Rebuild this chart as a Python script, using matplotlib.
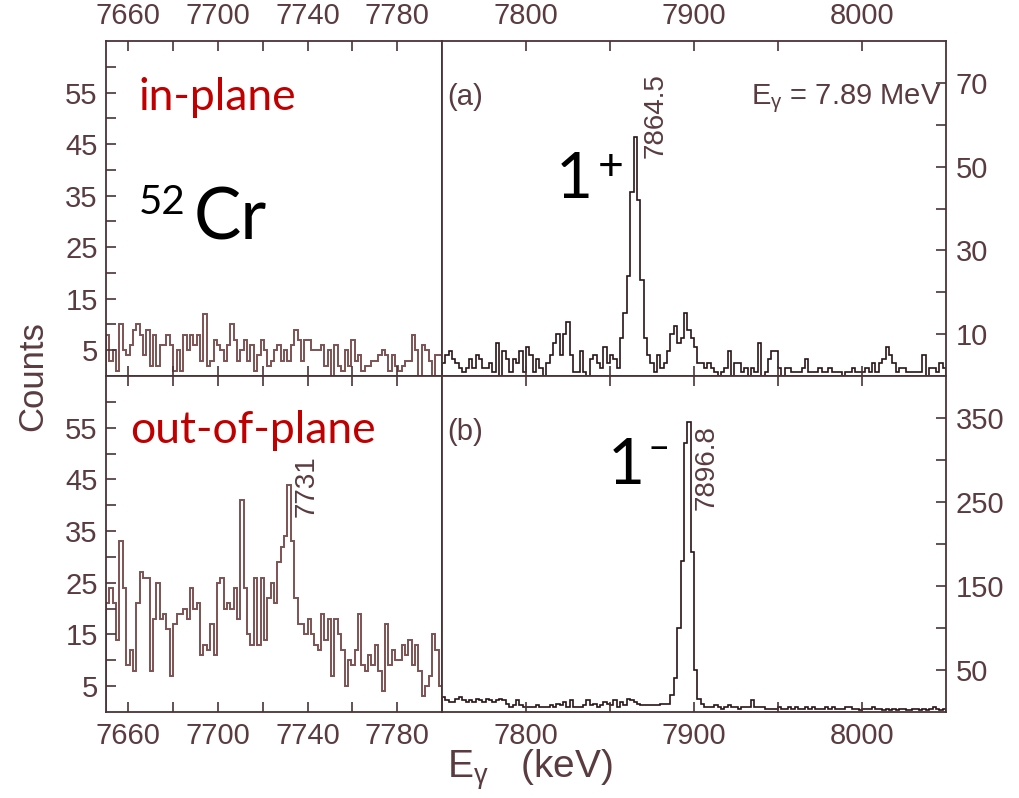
import numpy as np
import matplotlib
matplotlib.use("Agg")
import matplotlib.pyplot as plt
from matplotlib.ticker import FixedLocator

# ---------------- data ----------------
left_start, left_bin = 7650.0, 1.5      # keV
right_start, right_bin = 7750.0, 2.0    # keV

inplane_left = [8, 3, 5, 1, 10, 5, 4, 6, 9, 10, 8, 4, 9, 2, 8, 2, 6, 6, 8, 6,
                1, 5, 1, 8, 5, 8, 6, 8, 3, 12, 2, 3, 7, 6, 5, 3, 6, 10, 7, 3,
                5, 7, 3, 6, 1, 4, 7, 5, 2, 3, 5, 6, 3, 5, 3, 6, 9, 7, 3, 7,
                7, 5, 5, 5, 6, 2, 5, 0, 6, 2, 1, 5, 2, 7, 3, 4, 1, 2, 2, 3,
                3, 4, 5, 4, 1, 4, 2, 1, 2, 3, 3, 8, 5, 0, 6, 5, 3, 0, 4, 4]

inplane_right = [3, 5, 6, 4, 3, 2, 1, 2, 4, 2,
                 5, 4, 2, 2, 3, 1, 8, 0, 6, 4,
                 1, 4, 3, 6, 1, 7, 5, 1, 4, 2,
                 0, 3, 5, 8, 10, 5, 10, 13, 5, 1,
                 1, 6, 1, 0, 4, 5, 3, 2, 7, 3,
                 5, 4, 2, 9, 15, 24, 44, 57, 42, 23,
                 9, 5, 3, 1, 5, 2, 3, 6, 10, 12,
                 8, 9, 15, 11, 9, 7, 3, 3, 2, 3,
                 2, 1, 0, 1, 2, 6, 0, 3, 3, 1,
                 2, 0, 2, 1, 8, 0, 1, 4, 6, 6,
                 2, 0, 2, 2, 1, 1, 1, 2, 4, 1,
                 1, 1, 2, 1, 1, 2, 1, 1, 1, 0,
                 1, 1, 2, 1, 1, 1, 2, 1, 3, 1,
                 3, 4, 7, 5, 3, 1, 2, 2, 1, 1,
                 1, 1, 1, 5, 0, 2, 2, 1, 3, 2]

outplane_left = [21, 24, 21, 14, 33, 24, 9, 12, 8, 21,
                 27, 26, 26, 8, 18, 25, 18, 19, 16, 7,
                 17, 19, 19, 20, 18, 24, 20, 21, 11, 13,
                 12, 17, 11, 25, 26, 20, 21, 20, 24, 18,
                 41, 24, 15, 13, 26, 13, 26, 14, 22, 25,
                 21, 29, 32, 34, 44, 33, 22, 17, 17, 15,
                 18, 15, 13, 12, 19, 14, 18, 7, 18, 15,
                 12, 5, 10, 9, 12, 19, 9, 8, 11, 9,
                 13, 8, 4, 17, 9, 12, 10, 10, 13, 11,
                 14, 9, 13, 8, 3, 5, 7, 15, 12, 5]

outplane_right = [18, 14, 12, 12, 16, 18, 14, 12, 14, 12,
                  16, 14, 12, 16, 14, 12, 14, 16, 14, 10,
                  6, 8, 14, 8, 6, 6, 6, 6, 8, 6,
                  6, 6, 8, 6, 10, 8, 12, 6, 14, 6,
                  6, 6, 8, 14, 8, 10, 6, 8, 12, 10,
                  8, 14, 6, 12, 8, 16, 14, 12, 10, 8,
                  8, 8, 8, 8, 8, 10, 10, 10, 20, 40,
                  100, 180, 320, 345, 190, 50, 16, 10, 6, 6,
                  6, 8, 6, 4, 6, 8, 6, 6, 4, 6,
                  6, 6, 14, 6, 6, 6, 4, 4, 4, 4,
                  6, 4, 4, 6, 4, 6, 4, 4, 6, 4,
                  6, 4, 4, 4, 6, 4, 6, 4, 4, 4,
                  6, 6, 4, 4, 2, 4, 4, 4, 6, 4,
                  4, 2, 4, 2, 4, 2, 4, 4, 2, 2,
                  4, 4, 2, 4, 2, 4, 6, 4, 2, 4]

left_xlim = (7650, 7800)
right_xlim = (7750, 8050)
left_ylim = (0, 65)
top_right_ylim = (0, 80)
bot_right_ylim = (0, 400)

left_major_x = [7660, 7700, 7740, 7780]
left_minor_x = [7680, 7720, 7760]
right_major_x = [7800, 7900, 8000]
right_minor_x = [7850, 7950]
left_major_y = [5, 15, 25, 35, 45, 55]
left_minor_y = [10, 20, 30, 40, 50, 60]
tr_major_y = [10, 30, 50, 70]
tr_minor_y = [20, 40, 60]
br_major_y = [50, 150, 250, 350]
br_minor_y = [100, 200, 300]

peak_a, peak_b, peak_left = "7864.5", "7896.8", "7731"

# ---------------- style ----------------
AX = "#4b3336"
TXT = "#5a3c40"
LEFT_C = "#7d5252"
RIGHT_C = "#2a1416"
RED = "#c00000"
FONT = "Liberation Sans"
BIG = "Lato"

plt.rcParams["font.family"] = [FONT, "DejaVu Sans"]
plt.rcParams["mathtext.fontset"] = "custom"
plt.rcParams["mathtext.rm"] = FONT
plt.rcParams["mathtext.it"] = FONT

W, H = 1020, 798
fig = plt.figure(figsize=(W / 100, H / 100), dpi=100)


def rect(x0, y0, x1, y1):
    return [x0 / W, 1 - y1 / H, (x1 - x0) / W, (y1 - y0) / H]


ax_tl = fig.add_axes(rect(106, 41, 442, 376))
ax_tr = fig.add_axes(rect(442, 41, 946, 376))
ax_bl = fig.add_axes(rect(106, 376, 442, 712))
ax_br = fig.add_axes(rect(442, 376, 946, 712))


def edges(start, width, vals):
    return start + width * np.arange(len(vals) + 1)


ax_tl.stairs(inplane_left, edges(left_start, left_bin, inplane_left), color=LEFT_C, lw=1.4)
ax_bl.stairs(outplane_left, edges(left_start, left_bin, outplane_left), color=LEFT_C, lw=1.4)
ax_tr.stairs(inplane_right, edges(right_start, right_bin, inplane_right), color=RIGHT_C, lw=1.2)
ax_br.stairs(outplane_right, edges(right_start, right_bin, outplane_right), color=RIGHT_C, lw=1.2)

for ax in (ax_tl, ax_tr, ax_bl, ax_br):
    for s in ax.spines.values():
        s.set_color(AX)
        s.set_linewidth(1.3)
    ax.tick_params(which="both", direction="in", length=7, width=1.2,
                   color=AX, labelcolor=TXT, labelsize=21)

for ax in (ax_tl, ax_bl):
    ax.set_xlim(*left_xlim)
    ax.set_ylim(*left_ylim)
    ax.xaxis.set_major_locator(FixedLocator(left_major_x))
    ax.xaxis.set_minor_locator(FixedLocator(left_minor_x))
    ax.yaxis.set_major_locator(FixedLocator(left_major_y))
    ax.yaxis.set_minor_locator(FixedLocator(left_minor_y))
    ax.tick_params(axis="y", which="both", left=True, right=False, labelleft=True, pad=6)

for ax, yl, ymj, ymn in ((ax_tr, top_right_ylim, tr_major_y, tr_minor_y),
                         (ax_br, bot_right_ylim, br_major_y, br_minor_y)):
    ax.set_xlim(*right_xlim)
    ax.set_ylim(*yl)
    ax.xaxis.set_major_locator(FixedLocator(right_major_x))
    ax.xaxis.set_minor_locator(FixedLocator(right_minor_x))
    ax.yaxis.set_major_locator(FixedLocator(ymj))
    ax.yaxis.set_minor_locator(FixedLocator(ymn))
    ax.tick_params(axis="y", which="both", left=False, right=True,
                   labelleft=False, labelright=True, pad=7)

for ax in (ax_tl, ax_tr):
    ax.tick_params(axis="x", which="both", top=True, bottom=True,
                   labeltop=True, labelbottom=False, pad=8)
for ax in (ax_bl, ax_br):
    ax.tick_params(axis="x", which="both", top=True, bottom=True,
                   labeltop=False, labelbottom=True, pad=7)

# axis labels
fig.text(33 / W, 1 - 376 / H, "Counts", rotation=90, ha="center", va="center",
         fontsize=25, color=TXT)
fig.text(530 / W, 1 - 770 / H, r"E$_{\mathregular{γ}}$   (keV)", ha="center", va="center",
         fontsize=28, color=TXT)

# panel annotations
ax_tr.text(0.01, 0.81, "(a)", transform=ax_tr.transAxes, fontsize=21, color=TXT, va="baseline")
ax_br.text(0.01, 0.81, "(b)", transform=ax_br.transAxes, fontsize=21, color=TXT, va="baseline")
ax_tr.text(0.99, 0.81, r"E$_{\mathregular{γ}}$ = 7.89 MeV", transform=ax_tr.transAxes,
           ha="right", va="baseline", fontsize=21, color=TXT)

ax_tr.text(7877, 52, peak_a, rotation=90, ha="center", va="bottom", fontsize=20, color=TXT)
ax_br.text(7907.5, 240, peak_b, rotation=90, ha="center", va="bottom", fontsize=20, color=TXT)
ax_bl.text(7739.7, 37.8, peak_left, rotation=90, ha="center", va="bottom", fontsize=20, color=TXT)

# big labels
fig.text(139 / W, 1 - 110 / H, "in-plane", fontsize=32, color=RED, family=BIG, va="baseline")
fig.text(130 / W, 1 - 443 / H, "out-of-plane", fontsize=32, color=RED, family=BIG, va="baseline")
fig.text(139 / W, 1 - 214 / H, "52", fontsize=29, color="black", family=BIG, va="baseline")
fig.text(194 / W, 1 - 240 / H, "Cr", fontsize=51, color="black", family=BIG, va="baseline")
fig.text(556 / W, 1 - 198 / H, "1", fontsize=46, color="black", family=BIG, va="baseline")
fig.text(611 / W, 1 - 168 / H, "+", fontsize=32, color="black", family=BIG, ha="center", va="center")
fig.text(608 / W, 1 - 484 / H, "1", fontsize=46, color="black", family=BIG, va="baseline")
fig.text(659 / W, 1 - 448 / H, "\u2013", fontsize=28, color="black", family=BIG, ha="center", va="center")

fig.savefig("out.png", dpi=100)
